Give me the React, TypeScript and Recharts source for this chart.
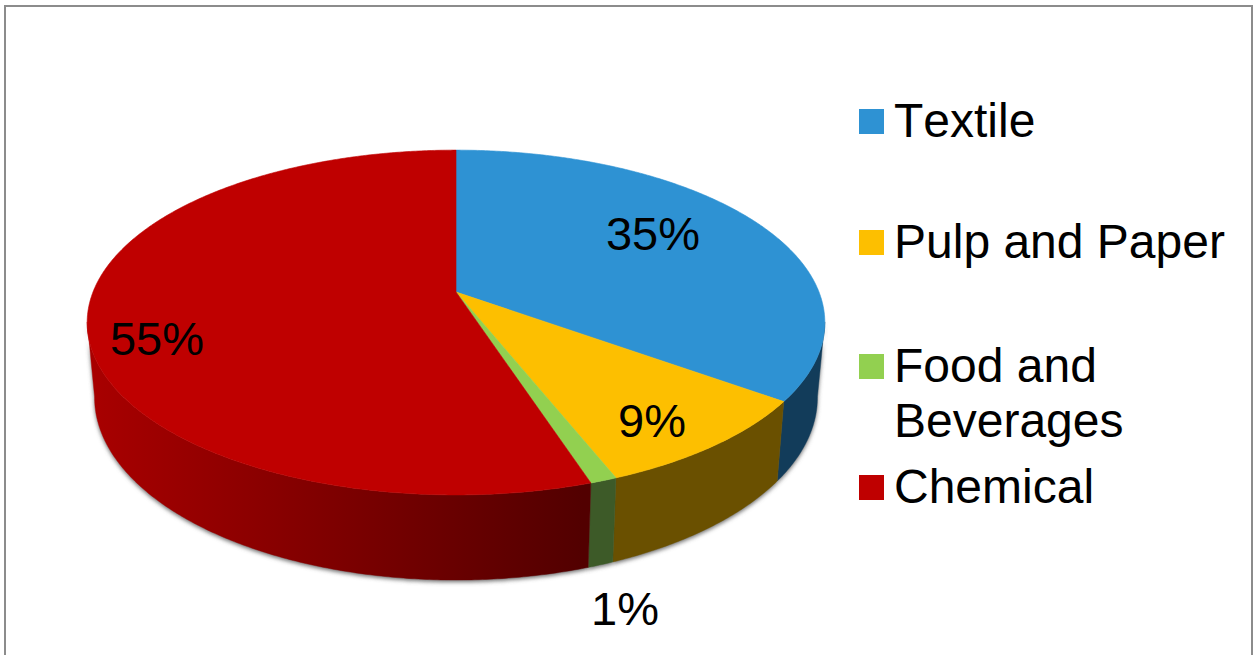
import React from 'react';
import { PieChart, Pie, Legend } from 'recharts';

const categories = ['Textile', 'Pulp and Paper', 'Food and Beverages', 'Chemical'];
const shares = [35, 9, 1, 55];
const topColors = ['#2e92d3', '#fdbf00', '#92d050', '#bf0000'];
const wallColors = ['#123c5a', '#6a5000', '#3d5a28', 'url(#chemicalWall)'];

const pieData = categories.map((name, i) => ({
    name,
    value: shares[i],
    fill: topColors[i],
    wall: wallColors[i],
}));

// label baselines, placed by hand like the original sheet
const labelSpots = [
    { x: 653, y: 250 },
    { x: 652, y: 437 },
    { x: 625, y: 625 },
    { x: 157, y: 355 },
];
const legendTops = [93, 214, 338, 459];

const FONT = '"Liberation Sans", Arial, sans-serif';

// tilted disc: v runs away from / towards the viewer, p is the perspective strength
const PERSPECTIVE = 0.177;
const TOP_RING = { xScale: 1, yHalf: 167, yShift: 0 };
const BOTTOM_RING = { xScale: 0.98, yHalf: 177, yShift: 73 };
// walls are only drawn between the disc's left and right silhouette,
// in Recharts degrees (90 is twelve o'clock, going clockwise downwards)
const WALL_FROM = -10;
const WALL_TO = -170;

type Ring = typeof TOP_RING;

const project = (angle: number, cx: number, cy: number, radius: number, ring: Ring) => {
    const theta = ((90 - angle) * Math.PI) / 180;
    const u = Math.sin(theta);
    const v = -Math.cos(theta);
    const den = 1 - PERSPECTIVE * v;
    return {
        x: cx + (radius * ring.xScale * u) / den,
        y: cy + ring.yShift + (ring.yHalf * v) / den,
    };
};

const arcPoints = (from: number, to: number, cx: number, cy: number, r: number, ring: Ring) => {
    const steps = Math.max(2, Math.ceil(Math.abs(to - from) * 2));
    const pts = [];
    for (let i = 0; i <= steps; i++) {
        const p = project(from + ((to - from) * i) / steps, cx, cy, r, ring);
        pts.push(`${p.x.toFixed(2)} ${p.y.toFixed(2)}`);
    }
    return pts;
};

const TopSlice = (props: any) => {
    const { cx, cy, outerRadius, startAngle, endAngle, fill } = props;
    const pts = arcPoints(startAngle, endAngle, cx, cy, outerRadius, TOP_RING);
    return <path d={`M${cx} ${cy}L${pts.join('L')}Z`} fill={fill} stroke={fill} strokeWidth={0.6} />;
};

const wallPath = (props: any) => {
    const { cx, cy, outerRadius, startAngle, endAngle } = props;
    const from = Math.min(startAngle, WALL_FROM);
    const to = Math.max(endAngle, WALL_TO);
    if (from <= to) return null;
    const upper = arcPoints(from, to, cx, cy, outerRadius, TOP_RING);
    const lower = arcPoints(to, from, cx, cy, outerRadius, BOTTOM_RING);
    return `M${upper.join('L')}L${lower.join('L')}Z`;
};

const WallSlice = (props: any) => {
    const d = wallPath(props);
    if (!d) return null;
    return <path d={d} fill={props.wall} stroke={props.wall} strokeWidth={0.4} />;
};

const ShadowSlice = (props: any) => {
    const d = wallPath(props);
    if (!d) return null;
    return <path d={d} fill="#6e6e6e" filter="url(#discShadow)" transform="translate(0 2)" />;
};

const renderLabel = (props: any) => {
    const spot = labelSpots[props.index];
    return (
        <text
            key={props.index}
            x={spot.x}
            y={spot.y}
            textAnchor="middle"
            fontSize={47}
            fontFamily={FONT}
            fill="#000"
            style={{ fontKerning: 'none' }}
        >
            {`${props.value}%`}
        </text>
    );
};

const renderLegend = (props: any) => {
    const seen = new Set<string>();
    const items = (props.payload || []).filter((item: any) => {
        if (seen.has(item.value)) return false;
        seen.add(item.value);
        return true;
    });
    return (
        <div
            style={{
                position: 'relative',
                width: 394,
                height: 480,
                fontFamily: FONT,
                fontSize: 48,
                lineHeight: '55px',
                color: '#000',
                fontKerning: 'none',
            }}
        >
            {items.map((item: any, i: number) => (
                <div key={item.value} style={{ position: 'absolute', left: 0, top: legendTops[i] - 80, width: 385 }}>
                    <span style={{ position: 'absolute', left: 0, top: 16, width: 25, height: 25, background: item.color }} />
                    <div style={{ marginLeft: 35 }}>{item.value}</div>
                </div>
            ))}
        </div>
    );
};

export default function App() {
    return (
        <div style={{ position: 'absolute', left: 0, top: 0, width: 1253, height: 655, background: '#fff', overflow: 'hidden' }}>
            <div
                style={{
                    position: 'absolute',
                    left: 4,
                    top: 5,
                    width: 1245,
                    height: 660,
                    border: '2px solid #8c8c8c',
                }}
            />
            <PieChart
                width={1253}
                height={655}
                margin={{ top: 0, right: 0, bottom: 0, left: 0 }}
                style={{ position: 'absolute', left: 0, top: 0 }}
            >
                <defs>
                    <linearGradient id="chemicalWall" gradientUnits="userSpaceOnUse" x1={92} y1={0} x2={583} y2={0}>
                        <stop offset="0%" stopColor="#a80000" />
                        <stop offset="100%" stopColor="#520000" />
                    </linearGradient>
                    <filter id="discShadow" x="-5%" y="-5%" width="110%" height="115%">
                        <feGaussianBlur stdDeviation={2.2} />
                    </filter>
                </defs>
                <Pie
                    data={pieData}
                    dataKey="value"
                    nameKey="name"
                    cx={456}
                    cy={292}
                    outerRadius={363}
                    startAngle={90}
                    endAngle={-270}
                    paddingAngle={0}
                    legendType="none"
                    shape={ShadowSlice}
                    isAnimationActive={false}
                />
                <Pie
                    data={pieData}
                    dataKey="value"
                    nameKey="name"
                    cx={456}
                    cy={292}
                    outerRadius={363}
                    startAngle={90}
                    endAngle={-270}
                    paddingAngle={0}
                    legendType="none"
                    shape={WallSlice}
                    isAnimationActive={false}
                />
                <Pie
                    data={pieData}
                    dataKey="value"
                    nameKey="name"
                    cx={456}
                    cy={292}
                    outerRadius={363}
                    startAngle={90}
                    endAngle={-270}
                    paddingAngle={0}
                    shape={TopSlice}
                    label={renderLabel}
                    labelLine={false}
                    isAnimationActive={false}
                />
                <Legend
                    content={renderLegend}
                    itemSorter={null}
                    wrapperStyle={{ position: 'absolute', left: 859, top: 80, width: 394, height: 480 }}
                />
            </PieChart>
        </div>
    );
}
